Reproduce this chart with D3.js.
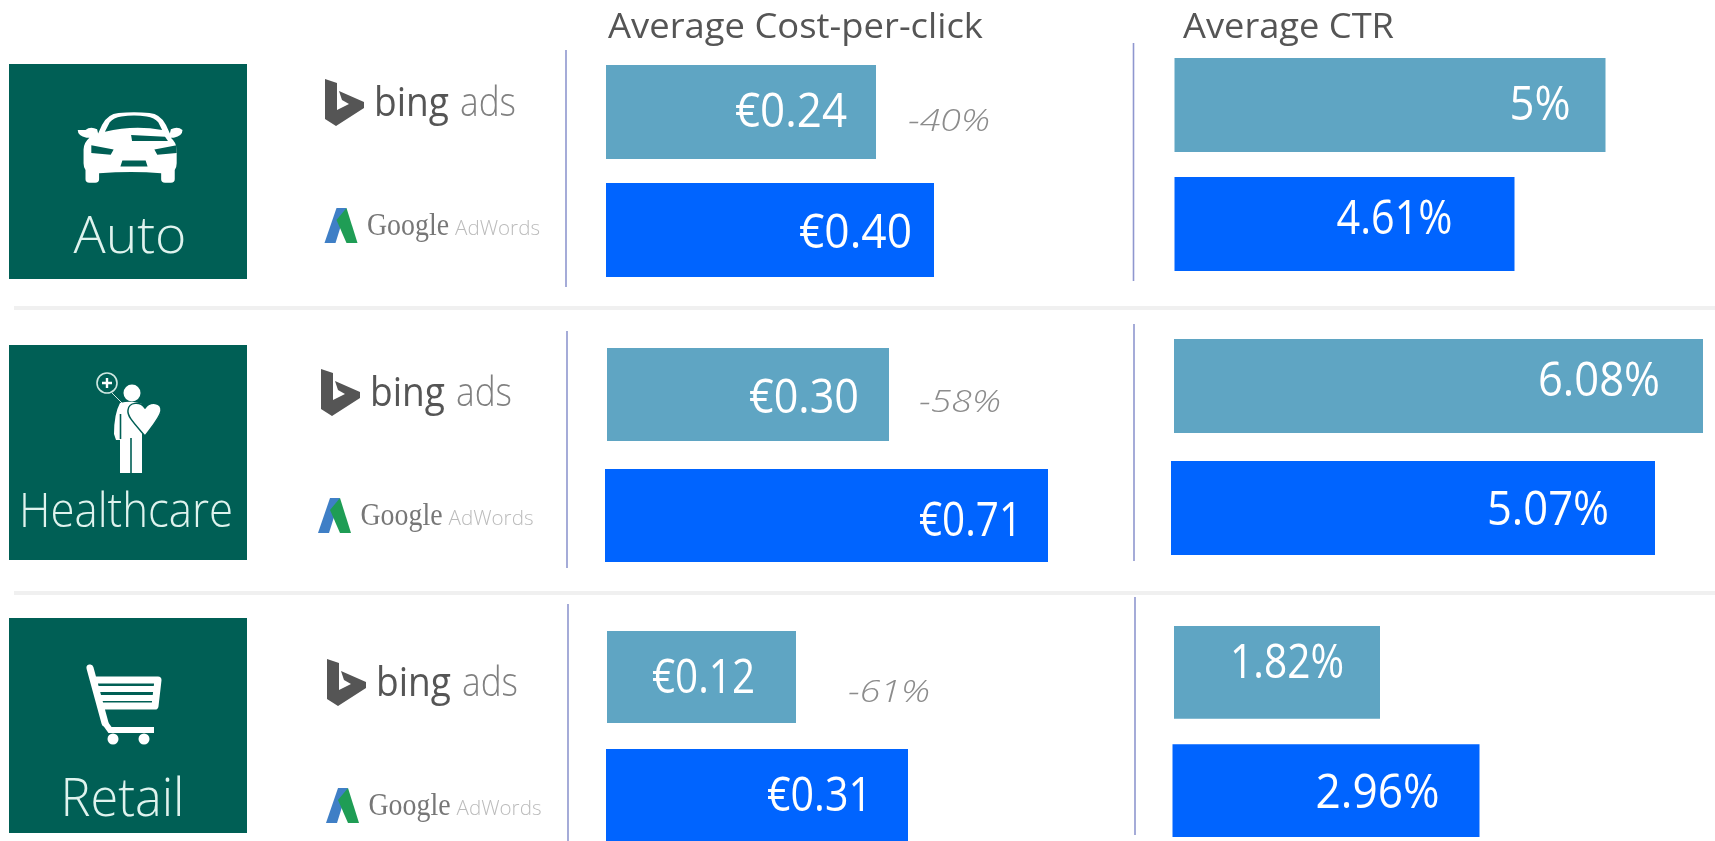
<!DOCTYPE html>
<html><head><meta charset="utf-8">
<script src="https://cdn.jsdelivr.net/npm/d3@7/dist/d3.min.js"></script>
<style>html,body{margin:0;padding:0;background:#fff;overflow:hidden}svg{display:block;filter:blur(0.55px)}text{font-family:"Open Sans",sans-serif}</style>
</head><body><svg id="c" width="1715" height="841"></svg>
<script>
// ---- data ----
const sectors = ["Auto", "Healthcare", "Retail"];
const engines = ["bing", "google"];
const metrics = ["Average Cost-per-click", "Average CTR"];
const cpcBing = [0.24, 0.30, 0.12];
const cpcGoogle = [0.40, 0.71, 0.31];
const ctrBing = [5, 6.08, 1.82];
const ctrGoogle = [4.61, 5.07, 2.96];
const cpcDiff = [-40, -58, -61];
const ctrLabels = ["5%", "6.08%", "1.82%"];

// ---- scales: the source infographic's bars are not proportional, so each axis is piecewise ----
const cpcLength = d3.scaleLinear().domain([0, .12, .24, .30, .31, .40, .71]).range([0, 189, 270, 282, 302, 328, 443]);
const ctrLength = d3.scaleLinear().domain([0, 1.82, 2.96, 4.61, 5, 5.07, 6.08]).range([0, 206, 307, 340, 431, 484, 529]);

// ---- per-row layout ----
const layout = [
  {tile:[64,279], sep:308, cpc:{x:[606,606],y:[65,277],gap:24,rule:[566,50,287]}, ctr:{x:[1174.5,1174.5],y:[58,271],gap:25,rule:[1133.5,43,281]},
   bing:[325,79], goog:[324.5,208], diff:[908,131],
   ink:{cpc:[[29,127,112],[22,248,113]], ctr:[[35,120,61],[62,234,116]]}},
  {tile:[345,560], sep:593, cpc:{x:[607,605],y:[348,562],gap:28,rule:[567,331,568]}, ctr:{x:[1174,1171],y:[339,555],gap:28,rule:[1134,324,561]},
   bing:[321,369], goog:[318,498], diff:[919,412],
   ink:{cpc:[[30,413,110],[26,536,103]], ctr:[[43,396,122],[46,525,122]]}},
  {tile:[618,833], sep:null, cpc:{x:[607,606],y:[631,841],gap:26,rule:[568,604,841]}, ctr:{x:[1174,1172.5],y:[626,837],gap:25.5,rule:[1135,597,835]},
   bing:[327,659], goog:[326,788], diff:[848,702],
   ink:{cpc:[[41,693,103],[36,811,105]], ctr:[[36,678,114],[40,808,124]]}}
];
const TILE="#005f55", LIGHT="#5fa5c3", BLUE="#0064ff", RULE="#8f97cf";
const svg = d3.select("#c");
svg.append("rect").attr("width",1715).attr("height",841).attr("fill","#fff");

// header
svg.selectAll("text.head").data(metrics).join("text").attr("class","head")
  .attr("x",(d,i)=>[608,1183][i]).attr("y",38).attr("font-size",35).attr("fill","#555")
  .attr("textLength",(d,i)=>[375,211][i]).attr("lengthAdjust","spacingAndGlyphs").text(d=>d);

function squeezed(g,x,y,size,width,txt,fill,weight,anchor){
  return g.append("text").attr("x",x).attr("y",y).attr("font-size",size).attr("fill",fill)
    .attr("font-weight",weight||400).attr("text-anchor",anchor||"start")
    .attr("textLength",width).attr("lengthAdjust","spacingAndGlyphs").text(txt);
}

// icons, in local coordinates
const icons = [
 g=>{ // car
  g.attr("transform","translate(134,113) scale(.97,.85)");
  g.append("path").attr("fill","#fff").attr("d","M-50,20 q5,-5 12,-1 l1,5 l4,-10 Q-27,1 -16,0 Q0,-2 16,0 Q27,1 33,14 l4,10 l1,-5 q7,-4 12,1 q0,7 -9,9 l-3,0 q6,6 6,14 l0,16 q0,5 -2,8 l0,11 q0,4 -4,4 l-6,0 q-4,0 -4,-4 l0,-7 q-30,-3 -64,0 l0,7 q0,4 -4,4 l-6,0 q-4,0 -4,-4 l0,-11 q-2,-3 -2,-8 l0,-16 q0,-8 6,-14 l-3,0 q-9,-2 -9,-9Z");
  g.append("path").attr("fill",TILE).attr("d","M-30,22 L-25,11 Q-21,5 -13,4 Q0,2 13,4 Q21,5 25,11 L29,20 Q0,14 -30,22Z");
  g.append("path").attr("fill",TILE).attr("d","M-3,26 L32,28 L35,33 L-2,33Z M-44,38 L-21,43 L-24,49 L-44,47Z M44,38 L21,43 L24,49 L44,47Z M-12,56 L12,56 L14,63 L-14,63Z");
 },
 g=>{ // person with balloon heart
  g.attr("transform","translate(128,384)");
  g.append("circle").attr("cx",-21).attr("cy",-1).attr("r",10).attr("fill","none").attr("stroke","#cfe8e2").attr("stroke-width",1.6);
  g.append("path").attr("d","M-26,-1 h10 M-21,-6 v10").attr("stroke","#fff").attr("stroke-width",2.4);
  g.append("path").attr("d","M-16,9 L-5,20").attr("stroke","#cfe8e2").attr("stroke-width",1);
  g.append("circle").attr("cx",4).attr("cy",9).attr("r",8.5).attr("fill","#fff");
  g.append("path").attr("fill","#fff").attr("d","M-8,19 Q4,16 14,20 L14,89 L-8,89 L-8,56 L-12,56 L-14,50 Q-14,30 -8,19Z");
  g.append("path").attr("stroke",TILE).attr("stroke-width",1.6).attr("d","M3,54 V89 M-7.5,30 V55");
  g.append("path").attr("fill","#fff").attr("stroke",TILE).attr("stroke-width",1.5).attr("d","M17,52 C5,38 -1,32 0,26 C1,18 12,17 17,24 C22,17 34,18 33,27 C32,33 26,40 17,52Z");
 },
 g=>{ // shopping cart
  g.attr("transform","translate(130,668)");
  g.append("path").attr("fill","none").attr("stroke","#fff").attr("stroke-width",7).attr("stroke-linejoin","round").attr("stroke-linecap","round")
   .attr("d","M-40,0 L-25,55 M-35,12 L28,12 L25,38 L-29,38");
  g.append("path").attr("stroke","#fff").attr("stroke-width",6).attr("d","M-32,21 H27 M-30,30 H26");
  g.append("circle").attr("cx",-17).attr("cy",71).attr("r",5.5).attr("fill","#fff");
  g.append("circle").attr("cx",14).attr("cy",71).attr("r",5.5).attr("fill","#fff");
  g.append("path").attr("fill","none").attr("stroke","#fff").attr("stroke-width",6).attr("d","M-25,55 L-20,62 L24,62");
 }
];
const sectorText = [[130,253,52,113],[126,527,47,214],[122.5,816,54,124]];

sectors.forEach((name,i)=>{
  const L = layout[i], row = svg.append("g");
  // tile
  row.append("rect").attr("x",9).attr("y",L.tile[0]).attr("width",238).attr("height",L.tile[1]-L.tile[0]).attr("fill",TILE);
  icons[i](row.append("g"));
  const st = sectorText[i];
  squeezed(row,st[0],st[1],st[2],st[3],name,"#dff3ee",300,"middle");

  // bing logo
  const b = row.append("g").attr("transform",`translate(${L.bing})`);
  b.append("path").attr("fill","#555").attr("d","M0,0 L12,4 L12,31 L24,25 L17,21 L14,12 L39,23 L39,29 L11,47 L0,40Z");
  squeezed(b,49,37,41,75,"bing","#555",400);
  squeezed(b,135,37,41,56,"ads","#808080",300);
  // adwords logo
  const a = row.append("g").attr("transform",`translate(${L.goog})`);
  a.append("path").attr("fill","#3f7fc6").attr("d","M12,0 L22,0 L11,35 L0,35Z");
  a.append("path").attr("fill","#1f9d55").attr("d","M22,0 L33,35 L22,35 L12,12Z");
  row.append("text").attr("x",L.goog[0]+42.5).attr("y",L.goog[1]+27).style("font-family","'Liberation Serif',serif")
    .attr("font-size",31).attr("fill","#777").attr("textLength",82).attr("lengthAdjust","spacingAndGlyphs").text("Google");
  squeezed(a,130.5,27,20,85,"AdWords","#bbbbbb",300);

  // panels
  [["cpc",[cpcBing[i],cpcGoogle[i]],cpcLength,v=>"€"+v.toFixed(2)],
   ["ctr",[ctrBing[i],ctrGoogle[i]],ctrLength,(v,k)=>k===0?ctrLabels[i]:v.toFixed(2)+"%"]].forEach(([key,vals,len,fmt])=>{
    const P = L[key];
    const span = P.y[1]-P.y[0], bw = (span-P.gap)/2;
    const y = d3.scaleBand().domain(engines).range(P.y).paddingInner(P.gap/(bw+P.gap));
    row.append("line").attr("x1",P.rule[0]).attr("x2",P.rule[0]).attr("y1",P.rule[1]).attr("y2",P.rule[2]).attr("stroke",RULE).attr("stroke-width",1.6);
    row.selectAll(null).data(vals).join("rect")
      .attr("x",(d,k)=>P.x[k]).attr("y",(d,k)=>y(engines[k])).attr("width",d=>len(d)).attr("height",y.bandwidth())
      .attr("fill",(d,k)=>k?BLUE:LIGHT);
    row.selectAll(null).data(vals).join("text")
      .attr("x",(d,k)=>P.x[k]+len(d)-L.ink[key][k][0]).attr("y",(d,k)=>L.ink[key][k][1])
      .attr("text-anchor","end").attr("font-size",48).attr("fill","#fff").attr("font-weight",400)
      .attr("textLength",(d,k)=>L.ink[key][k][2]).attr("lengthAdjust","spacingAndGlyphs")
      .text((d,k)=>fmt(d,k));
  });
  // difference
  row.append("text").attr("x",L.diff[0]).attr("y",L.diff[1]).attr("font-size",32).attr("font-style","italic").attr("font-weight",300).attr("fill","#8c8c8c")
    .attr("textLength",82).attr("lengthAdjust","spacingAndGlyphs").text(cpcDiff[i]+"%");
  // separators
  if(L.sep) svg.append("line").attr("x1",14).attr("x2",1715).attr("y1",L.sep).attr("y2",L.sep).attr("stroke","#f0f0f0").attr("stroke-width",4);
});
</script></body></html>
